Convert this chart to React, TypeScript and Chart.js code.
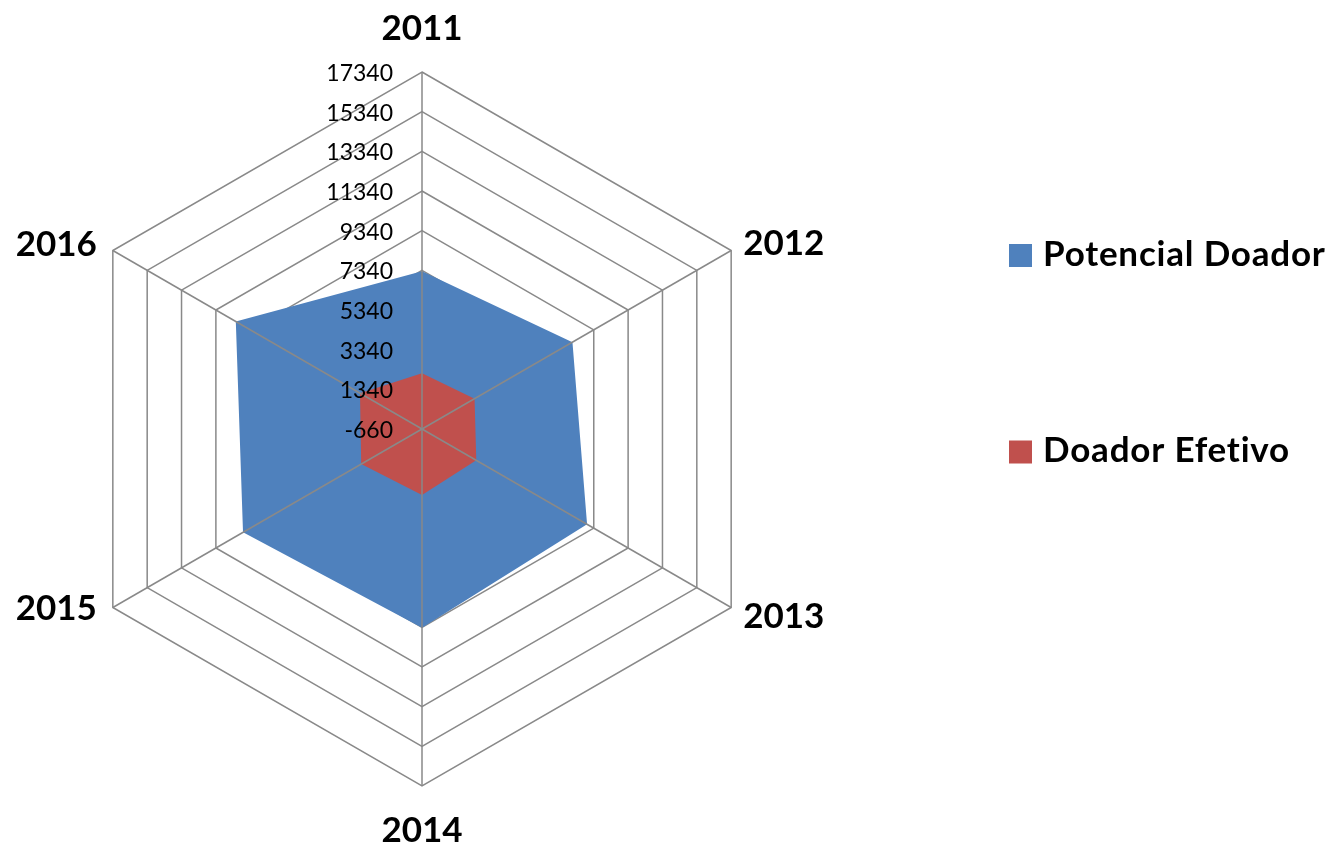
import React, { useEffect, useRef } from "react";
import { Chart, registerables } from "chart.js";

Chart.register(...registerables);

const years = ["2011", "2012", "2013", "2014", "2015", "2016"];
const potencialDoador = [7300, 8100, 8950, 9360, 9760, 10180];
const doadorEfetivo = [2150, 2400, 2500, 2670, 2880, 2950];
const seriesNames = ["Potencial Doador", "Doador Efetivo"];
const seriesColors = ["#4F81BD", "#C0504D"];
const axisMin = -660;
const axisMax = 17340;
const axisStep = 2000;

const GRID = "#898989";
const FONT = "Lato, 'Open Sans', sans-serif";

// label placement relative to each outer vertex: [align, dx, dyBaseline]
const labelPlacement: [CanvasTextAlign, number, number][] = [
  ["center", 0, -32],
  ["left", 12, 4.5],
  ["left", 12, 20],
  ["center", 0, 56],
  ["right", -16, 12.5],
  ["right", -16, 5.5],
];

const overlay = {
  id: "overlay",
  afterDatasetsDraw(chart: any) {
    const ctx: any = chart.ctx;
    const s = chart.scales.r;
    const labels: string[] = chart.data.labels;
    ctx.save();
    // angle lines on top of fills
    ctx.strokeStyle = GRID;
    ctx.lineWidth = 1.5;
    labels.forEach((_, i) => {
      const p = s.getPointPosition(i, s.drawingArea);
      ctx.beginPath();
      ctx.moveTo(s.xCenter, s.yCenter);
      ctx.lineTo(p.x, p.y);
      ctx.stroke();
    });
    // tick labels
    ctx.fillStyle = "#000";
    ctx.font = `23px ${FONT}`;
    ctx.textAlign = "right";
    ctx.textBaseline = "middle";
    s.ticks.forEach((t: any) => {
      const d = s.getDistanceFromCenterForValue(t.value);
      ctx.fillText(String(t.label), s.xCenter - 29, s.yCenter - d + 1.5);
    });
    // point labels
    ctx.font = `bold 35px ${FONT}`;
    ctx.textBaseline = "alphabetic";
    labels.forEach((lab, i) => {
      const p = s.getPointPosition(i, s.drawingArea);
      const [al, dx, dy] = labelPlacement[i];
      ctx.textAlign = al;
      ctx.fillText(lab, p.x + dx, p.y + dy);
    });
    // legend
    const legendY = [244, 440.5];
    chart.data.datasets.forEach((ds: any, i: number) => {
      ctx.fillStyle = ds.backgroundColor;
      ctx.fillRect(1009, legendY[i], 23, 23);
      ctx.fillStyle = "#000";
      ctx.textAlign = "left";
      ctx.font = `bold 35px ${FONT}`;
      ctx.letterSpacing = "0.8px";
      ctx.fillText(ds.label, 1043, legendY[i] + 21.5);
      ctx.letterSpacing = "0px";
    });
    ctx.restore();
  },
};

export default function App() {
  const ref = useRef<HTMLCanvasElement>(null);
  useEffect(() => {
    if (!ref.current) return;
    const chart = new Chart(ref.current, {
      type: "radar",
      data: {
        labels: years,
        datasets: [
          {
            label: seriesNames[0],
            data: potencialDoador,
            backgroundColor: seriesColors[0],
            borderWidth: 0,
            pointRadius: 0,
            fill: "start",
            order: 2,
          },
          {
            label: seriesNames[1],
            data: doadorEfetivo,
            backgroundColor: seriesColors[1],
            borderWidth: 0,
            pointRadius: 0,
            fill: "start",
            order: 1,
          },
        ],
      },
      plugins: [overlay],
      options: {
        responsive: false,
        animation: false,
        layout: { padding: { left: 65, top: 72, right: 555, bottom: 59 } },
        plugins: { legend: { display: false }, tooltip: { enabled: false } },
        elements: { line: { tension: 0 } },
        scales: {
          r: {
            min: axisMin,
            max: axisMax,
            beginAtZero: false,
            ticks: { stepSize: axisStep, display: false, callback: (v: any) => String(v) },
            grid: { color: GRID, lineWidth: 1.5, circular: false },
            angleLines: { display: false },
            pointLabels: { display: false },
          },
        },
      } as any,
    });
    return () => chart.destroy();
  }, []);
  return (
    <div style={{ position: "absolute", left: 0, top: 0, width: 1334, height: 845, background: "#fff" }}>
      <canvas ref={ref} width={1334} height={845} style={{ display: "block" }} />
    </div>
  );
}
